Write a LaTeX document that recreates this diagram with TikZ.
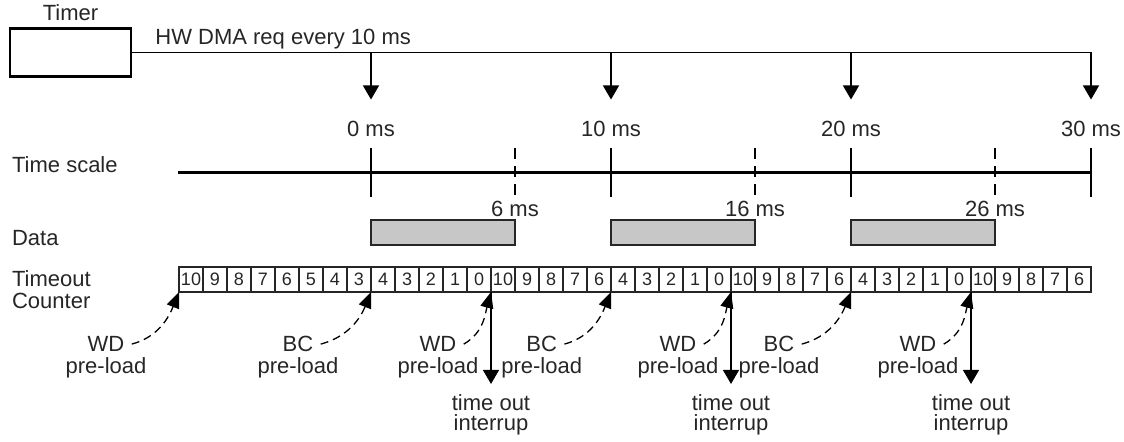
\documentclass[tikz,border=0pt]{standalone}
\usepackage{fontspec}
\setmainfont{Liberation Sans}
\usetikzlibrary{arrows.meta,positioning}

\begin{document}
\begin{tikzpicture}[
  x=0.5pt, y=-0.5pt,
  font=\fontsize{11}{13}\selectfont,
  txt/.style={inner sep=0pt, text=black!85},
  lab/.style={txt, inner sep=3.5pt, anchor=base},
  tmr/.style={draw, line width=1.1pt, minimum width=60.5pt, minimum height=24pt, inner sep=0pt},
  cell/.style={draw, line width=1.1pt, draw=black!85, outer sep=0pt, minimum width=12pt, minimum height=12.5pt, inner sep=0pt, font=\fontsize{9}{10}\selectfont, text=black!85},
  dat/.style={draw, line width=1pt, draw=black!85, fill=black!22, minimum width=72pt, minimum height=12.5pt, inner sep=0pt},
  ln/.style={line width=0.65pt},
  req/.style={ln, -{Triangle[length=7pt,width=8pt]}},
  axis/.style={line width=1.2pt},
  tk/.style={line width=0.7pt},
  pl/.style={ln, dash pattern=on 4pt off 2.5pt, -{Triangle[length=8pt,width=6.5pt]}}
]
\useasboundingbox (0,0) rectangle (1124,442);

\node[tmr] (timer) at (70.5,52.5) {};
\node[txt, above=2.9pt of timer] (tmrlab) {Timer};
\node[txt, anchor=base west] (hw) at (155,45) {HW DMA req every 10 ms};

\foreach \tm in {0,10,20,30} \coordinate (q\tm) at ({371+24*\tm},99.5);
\draw[req] (timer.east) -| (q30);
\foreach \tm in {0,10,20} \draw[req] (q\tm |- timer.east) -- (q\tm);

\node[txt, anchor=base west] (tsl) at (11.7,173) {Time scale};
\node[txt, anchor=base west] (dl) at (11.7,246) {Data};
\node[txt, anchor=north west, align=left, font=\fontsize{11}{11.3}\selectfont] (tcl) at (11.7,270) {Timeout\\Counter};

\foreach \tm in {0,10,20,30} \node[txt, anchor=base] (m\tm) at ({371+24*\tm},136.7) {\tm\ ms};
\coordinate (ts) at (178,172.5);
\coordinate (te) at (1091,172.5);
\draw[axis] (ts) -- (te);
\foreach \tm in {0,10,20,30} \draw[tk] ({371+24*\tm},148.5) -- ++(0,48.2);
\foreach \tm in {6,16,26} {
  \draw[tk, dash pattern=on 5.5pt off 3.5pt] ({371+24*\tm},148.5) -- ++(0,48.2);
  \node[txt, anchor=base] (e\tm) at ({371+24*\tm},216.7) {\tm\ ms};
}
\foreach \tm in {0,10,20} \node[dat] (d\tm) at ({443+24*\tm},232.5) {};

\foreach \v [count=\i from 0] in {10,9,8,7,6,5,4,3,4,3,2,1,0,10,9,8,7,6,4,3,2,1,0,10,9,8,7,6,4,3,2,1,0,10,9,8,7,6}
  \node[cell] (c\i) at ({191+24*\i},279.5) {\v};

\foreach \n/\px/\k/\oa/\ia/\m in {1/106/0/15/-112/WD, 2/298/8/15/-112/BC, 3/438/13/30/-105/WD, 4/541.7/18/15/-112/BC, 5/678/23/30/-105/WD, 6/779/28/15/-112/BC, 7/918/33/30/-105/WD} {
  \node[lab] (w\n) at (\px,351.7) {\m};
  \node[lab] (p\n) at ([yshift=-11pt]w\n.base) {pre-load};
  \draw[pl] (w\n.east) to[out=\oa, in=\ia] (c\k.south west);
}

\foreach \n/\px/\k in {1/491/13, 2/731/23, 3/971/33} {
  \node[lab] (t\n) at (\px,410.5) {time out};
  \node[lab] (i\n) at ([yshift=-10pt]t\n.base) {interrup};
  \draw[req, shorten >=1.6pt] (c\k.south west) -- (t\n.north);
}
\end{tikzpicture}
\end{document}
